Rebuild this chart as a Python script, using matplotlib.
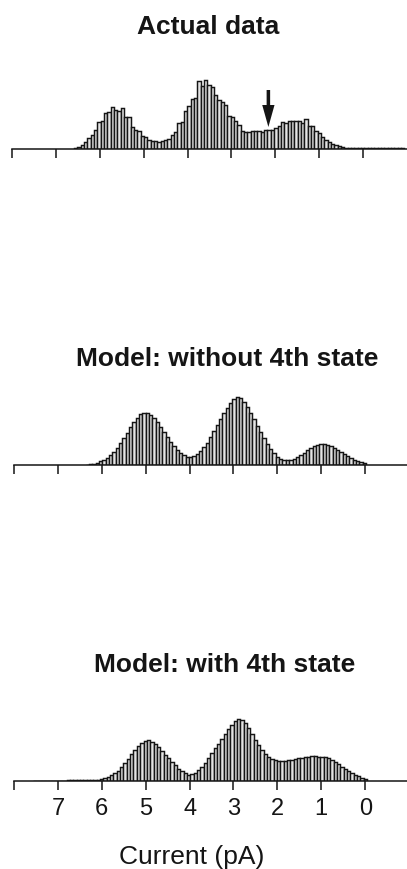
import numpy as np
import matplotlib
matplotlib.use("Agg")
from matplotlib import pyplot as plt

plt.rcParams['font.family'] = ['Liberation Sans', 'DejaVu Sans']

# bin width (pA) shared by the three histograms
step = 0.076

# Actual data, bars from 6.55 pA towards -0.9 pA
actual_start = 6.55
actual_counts = [1, 2, 4, 7, 11, 14, 19, 27, 28, 36, 37, 42, 39, 38, 41, 32, 32, 22, 19, 18,
                 13, 12, 9, 8, 8, 7, 8, 9, 10, 14, 17, 26, 27, 38, 43, 50, 51, 68, 63, 69,
                 64, 62, 54, 49, 47, 44, 33, 32, 28, 24, 18, 17, 17, 18, 18, 18, 17, 19, 19, 19,
                 21, 23, 27, 26, 28, 28, 28, 28, 26, 30, 23, 23, 18, 16, 12, 9, 7, 5, 4, 3,
                 2, 1.5, 1.5, 1.4, 1.4, 1.2, 1.2, 1.1, 1.1, 1, 1, 1, 0.9, 0.9, 0.8, 0.8,
                 0.8, 0.7, 0.7]

# Model without the 4th state
no4_start = 6.33
no4_counts = [0.5, 1, 1.5, 2.5, 4, 5, 7, 10, 13, 17, 22, 27, 32, 38, 43, 47, 51, 52, 52, 50,
              47, 43, 38, 33, 28, 23, 19, 15, 12, 10, 8, 8, 9, 11, 14, 18, 22, 28, 34, 40,
              46, 52, 57, 62, 66, 68, 67, 63, 58, 52, 46, 39, 33, 27, 21, 16, 12, 8, 6, 5,
              5, 5, 6, 8, 10, 12, 15, 17, 19, 20, 21, 21, 20, 19, 17, 15, 13, 11, 9, 7,
              5, 4, 3, 2]

# Model with the 4th state
with4_start = 7.52
with4_counts = [0.5, 0.5, 0.5, 0.5, 0.5, 0.5, 0.5, 0.5, 0.5, 0.5, 0.6, 0.6, 0.6, 0.6, 0.7, 0.7,
                0.8, 0.9, 1, 1.5,
                2, 3, 4, 6, 8, 10, 14, 18, 22, 27, 31, 35, 38, 40, 41, 39, 37, 34, 30, 26,
                23, 19, 16, 12, 10, 8, 6, 7, 8, 11, 14, 18, 23, 28, 33, 37, 42, 47, 52, 56,
                60, 62, 61, 58, 53, 47, 41, 36, 31, 27, 24, 22, 21, 20, 20, 20, 21, 21, 22, 23,
                23, 24, 24, 25, 25, 24, 24, 24, 23, 21, 19, 17, 14, 12, 10, 8, 6, 5, 3, 2]

titles = ["Actual data", "Model: without 4th state", "Model: with 4th state"]
tick_values = [8, 7, 6, 5, 4, 3, 2, 1, 0]
tick_labels = ["", "7", "6", "5", "4", "3", "2", "1", "0"]
arrow_at = 2.16
arrow_from, arrow_to = 59, 22

W, H = 407, 869
fig = plt.figure(figsize=(W / 100, H / 100), dpi=100)

ink = '#151515'
px_per_pA = 43.9
panels = [
    # (start, counts, axis left px, baseline px, title baseline px, title center px)
    (actual_start, actual_counts, 12, 149, 34, 208),
    (no4_start, no4_counts, 14, 465, 366, 227),
    (with4_start, with4_counts, 14, 781, 672, 225),
]
ax_h = 100

axes = []
for i, (start, counts, left, base, ty, tx) in enumerate(panels):
    ax = fig.add_axes([left / W, (H - base) / H, 9 * px_per_pA / W, ax_h / H])
    centers = start - step * np.arange(len(counts))
    ax.bar(centers, counts, width=step, facecolor='#e4e4e4', edgecolor=ink,
           linewidth=1.05)
    ax.set_xlim(8, -1)
    ax.set_ylim(0, ax_h)
    for s in ['top', 'left', 'right']:
        ax.spines[s].set_visible(False)
    ax.spines['bottom'].set_linewidth(1.1)
    ax.spines['bottom'].set_color(ink)
    ax.set_yticks([])
    ax.set_xticks(tick_values)
    ax.tick_params(axis='x', direction='out', length=6.5, width=1.1, color=ink,
                   labelsize=17, labelcolor=ink, pad=6)
    if i == 2:
        ax.set_xticklabels(tick_labels)
    else:
        ax.set_xticklabels([])
    fig.text(tx / W, (H - ty) / H, titles[i], ha='center', va='baseline',
             fontsize=19, fontweight='bold', color=ink)
    axes.append(ax)

# arrow marking the extra level in the actual data
axes[0].arrow(arrow_at, arrow_from, 0, arrow_to - arrow_from, width=0.08,
              head_width=0.28, head_length=22, length_includes_head=True,
              color=ink, linewidth=0)

axes[2].set_xlabel("Current (pA)", fontsize=19, color=ink, va='center')
axes[2].xaxis.set_label_coords((192 - 14) / (9 * px_per_pA), -(857 - 781) / ax_h)

fig.savefig("out.png", dpi=100)
